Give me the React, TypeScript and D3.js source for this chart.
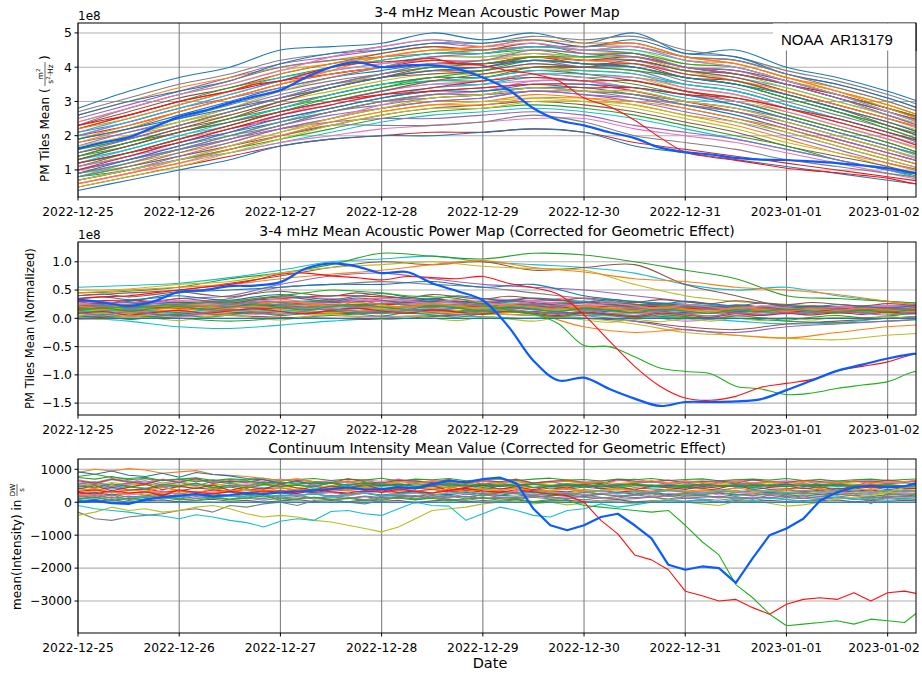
import React from 'react';
import * as d3 from 'd3';

const W = 922;
const H = 675;
const DAY = 864e5;
const T0 = Date.UTC(2022, 11, 25);
const SPAN_DAYS = 8.28;
const FONT = 'DejaVu Sans, sans-serif';

const dateTicks = ['2022-12-25', '2022-12-26', '2022-12-27', '2022-12-28', '2022-12-29', '2022-12-30', '2022-12-31', '2023-01-01', '2023-01-02'];
const tab10 = ['#1f77b4', '#ff7f0e', '#2ca02c', '#d62728', '#9467bd', '#8c564b', '#e377c2', '#7f7f7f', '#bcbd22', '#17becf'];

// ---- panel 1: acoustic power, units of 1e7, one value every 12 h
const p1Lines = [
  [28, 33, 37, 40, 45, 46, 47, 50, 48, 50, 47, 50, 44, 45, 40, 37, 33, 28],
  [27, 31, 35, 38, 42, 44, 46, 48, 47, 49, 48, 49, 45, 43, 39, 36, 32, 27],
  [25, 29, 33, 37, 41, 43, 45, 47, 46, 48, 46, 47, 43, 42, 38, 35, 31, 26],
  [26, 30, 34, 37, 40, 42, 44, 46, 45, 47, 45, 46, 42, 41, 37, 34, 30, 25],
  [24, 28, 32, 35, 39, 41, 43, 45, 44, 46, 45, 45, 41, 40, 36, 33, 29, 24],
  [23, 27, 31, 34, 38, 41, 44, 46, 45, 47, 44, 44, 40, 39, 36, 32, 28, 23],
  [22, 26, 30, 34, 37, 40, 42, 44, 44, 45, 43, 43, 40, 38, 35, 31, 27, 22],
  [21, 25, 29, 33, 37, 39, 41, 43, 43, 44, 43, 42, 39, 37, 34, 30, 26, 21],
  [20, 24, 28, 32, 36, 39, 41, 42, 42, 44, 42, 42, 38, 37, 33, 29, 25, 20],
  [20, 23, 27, 31, 35, 38, 40, 42, 41, 43, 41, 41, 37, 36, 32, 28, 24, 19],
  [19, 22, 26, 30, 34, 37, 39, 41, 41, 42, 41, 40, 37, 35, 31, 27, 23, 18],
  [18, 21, 25, 29, 33, 36, 38, 40, 40, 42, 40, 40, 36, 34, 30, 26, 22, 17],
  [17, 21, 24, 28, 32, 35, 37, 39, 39, 41, 40, 39, 35, 33, 29, 25, 21, 16],
  [16, 20, 23, 27, 31, 34, 37, 39, 38, 40, 39, 38, 34, 32, 28, 24, 20, 15],
  [15, 19, 23, 26, 30, 33, 36, 38, 38, 40, 38, 37, 33, 31, 27, 23, 19, 14],
  [14, 18, 22, 25, 29, 32, 35, 37, 37, 39, 38, 36, 33, 30, 26, 22, 18, 13],
  [14, 17, 21, 24, 28, 31, 34, 36, 36, 38, 37, 35, 32, 30, 26, 22, 18, 13],
  [13, 16, 20, 23, 27, 30, 33, 35, 35, 37, 36, 34, 31, 29, 25, 21, 17, 12],
  [12, 15, 19, 22, 26, 29, 32, 34, 35, 36, 36, 33, 30, 28, 24, 20, 16, 11],
  [12, 15, 18, 22, 25, 28, 31, 33, 34, 35, 35, 33, 30, 27, 23, 19, 15, 11],
  [11, 14, 18, 21, 24, 27, 30, 32, 33, 34, 34, 32, 29, 26, 22, 18, 14, 10],
  [10, 13, 17, 20, 23, 27, 29, 31, 32, 34, 33, 31, 28, 25, 21, 17, 13, 9],
  [10, 13, 16, 19, 23, 26, 28, 30, 31, 33, 32, 30, 27, 24, 20, 16, 12, 9],
  [9, 12, 15, 18, 22, 25, 28, 30, 30, 32, 31, 29, 26, 23, 19, 15, 12, 8],
  [9, 11, 14, 17, 21, 24, 27, 29, 30, 31, 30, 28, 25, 22, 18, 15, 11, 8],
  [8, 11, 14, 17, 20, 23, 26, 28, 29, 30, 29, 27, 24, 21, 17, 14, 11, 7],
  [8, 10, 13, 16, 19, 22, 25, 27, 28, 29, 28, 26, 23, 20, 17, 13, 10, 7],
  [7, 10, 13, 15, 18, 21, 24, 26, 27, 28, 27, 25, 22, 19, 16, 13, 10, 6],
  [6, 9, 12, 15, 18, 20, 22, 23, 24, 25, 25, 22, 20, 18, 15, 12, 9, 6],
  [5, 8, 11, 14, 17, 19, 20, 21, 21, 22, 21, 18, 16, 14, 12, 10, 8, 6],
  [4, 7, 10, 13, 17, 19, 20, 20, 21, 22, 21, 17, 15, 13, 11, 9, 7, 5],
  [7, 10, 13, 16, 20, 23, 23, 23, 24, 26, 24, 20, 18, 16, 13, 11, 9, 7],
  [10, 13, 16, 19, 22, 24, 25, 25, 26, 27, 26, 23, 21, 19, 16, 13, 10, 8],
  [19, 23, 27, 31, 35, 39, 43, 45, 45, 46, 46, 47, 43, 41, 37, 33, 29, 24],
  [16, 20, 24, 28, 33, 37, 40, 43, 43, 45, 44, 44, 40, 38, 34, 30, 26, 22],
  [13, 17, 21, 25, 30, 34, 37, 40, 40, 43, 42, 42, 39, 37, 33, 29, 25, 21],
  [11, 15, 19, 23, 27, 31, 34, 37, 37, 40, 40, 39, 37, 35, 31, 27, 23, 19],
  [8, 12, 16, 20, 24, 28, 31, 34, 35, 38, 38, 37, 35, 33, 29, 25, 21, 17],
  [6, 9, 13, 17, 21, 25, 29, 32, 33, 36, 36, 34, 32, 30, 27, 23, 19, 15],
  [22, 26, 30, 33, 36, 38, 40, 41, 41, 43, 42, 43, 40, 38, 35, 32, 28, 24],
  [26, 30, 33, 36, 41, 44, 45, 47, 47, 48, 46, 48, 44, 43, 38, 35, 31, 26],
  [23, 28, 32, 36, 40, 42, 43, 44, 45, 46, 46, 46, 43, 42, 38, 34, 30, 25],
  [21, 24, 28, 31, 34, 37, 40, 43, 44, 46, 45, 44, 40, 38, 35, 31, 27, 23],
  [18, 22, 27, 31, 35, 38, 40, 41, 42, 43, 42, 41, 38, 36, 33, 29, 25, 21],
  [17, 20, 24, 27, 31, 34, 38, 41, 42, 44, 43, 43, 39, 36, 32, 28, 24, 20],
  [15, 18, 22, 26, 30, 34, 37, 38, 39, 41, 40, 41, 38, 36, 32, 28, 23, 18],
  [14, 18, 21, 25, 28, 32, 35, 37, 39, 42, 41, 40, 37, 35, 31, 27, 22, 17],
  [12, 16, 20, 24, 28, 32, 35, 36, 37, 39, 39, 38, 35, 33, 29, 25, 21, 16],
  [11, 14, 17, 21, 26, 30, 33, 35, 36, 38, 37, 37, 34, 32, 28, 24, 20, 16],
  [10, 14, 18, 22, 26, 29, 32, 34, 36, 37, 36, 36, 33, 31, 28, 24, 20, 15],
  [9, 13, 17, 21, 25, 28, 31, 33, 33, 35, 35, 34, 32, 29, 25, 21, 17, 13],
  [8, 11, 15, 19, 23, 27, 30, 32, 32, 33, 33, 32, 30, 28, 25, 21, 17, 13],
  [7, 10, 14, 18, 22, 25, 28, 30, 31, 33, 32, 31, 29, 27, 23, 19, 15, 11],
  [6, 9, 12, 16, 20, 24, 27, 29, 29, 31, 31, 30, 28, 25, 22, 18, 14, 10],
  [5, 8, 11, 15, 19, 23, 26, 28, 28, 30, 30, 29, 26, 24, 21, 17, 13, 9],
  [13, 17, 21, 24, 27, 30, 33, 36, 38, 40, 40, 42, 39, 38, 35, 31, 27, 23],
  [16, 19, 23, 27, 31, 35, 38, 40, 41, 43, 43, 44, 41, 40, 36, 32, 28, 24],
  [20, 24, 28, 32, 36, 40, 42, 44, 44, 46, 45, 45, 42, 40, 36, 32, 27, 22],
  [24, 28, 32, 35, 39, 43, 46, 48, 46, 47, 45, 46, 42, 40, 36, 32, 27, 22],
  [12, 15, 19, 23, 27, 30, 32, 33, 34, 35, 34, 34, 32, 31, 28, 25, 21, 17],
  [19, 22, 25, 28, 31, 34, 37, 39, 40, 42, 41, 40, 37, 35, 32, 28, 24, 19],
  [9, 12, 16, 20, 24, 27, 30, 31, 32, 34, 33, 32, 29, 27, 24, 20, 16, 12],
  [15, 19, 23, 27, 31, 35, 38, 41, 42, 45, 44, 43, 40, 39, 35, 31, 26, 21],
  [22, 25, 29, 33, 38, 41, 43, 45, 46, 48, 47, 47, 43, 41, 37, 33, 28, 23],
  [7, 10, 13, 17, 21, 25, 28, 31, 32, 34, 33, 33, 30, 28, 24, 20, 16, 12],
];
// every 6 h
const p1Red = [23, 24.5, 26, 28, 30, 31.5, 33, 35, 36, 38, 40, 41, 41.5, 42, 42.5, 41, 40.5, 39, 38, 36, 31, 28.5, 24.5, 19.5, 15.2, 13.8, 12.8, 11.7, 10.5, 9.8, 9.2, 8.4, 7.6, 6.1, 5.5];
const p1Blue = [16.3, 18, 19.5, 22.5, 25.5, 27.3, 29.5, 31.5, 33.3, 37, 40, 41.5, 40, 40.5, 40.5, 39.5, 37, 33.5, 28, 24.5, 23, 21, 19.3, 16.5, 15.2, 14.5, 13.5, 13, 12.9, 12.5, 12, 11.3, 10.5, 9.2, 8.5];

// ---- panel 2: corrected power, units of 1e6, every 12 h
const p2Lines = [
  [55, 58, 62, 72, 85, 100, 105, 110, 100, 95, 90, 80, 60, 50, 55, 40, 30, 25],
  [45, 48, 55, 70, 80, 95, 115, 110, 105, 115, 112, 100, 85, 70, 40, 35, 30, 25],
  [40, 45, 50, 62, 75, 90, 100, 95, 100, 85, 90, 95, 60, 40, 20, 15, 10, 10],
  [50, 52, 60, 65, 80, 90, 95, 100, 92, 88, 85, 60, 40, 30, 25, 20, 18, 15],
  [45, 50, 55, 60, 70, 78, 85, 95, 102, 90, 82, 70, 65, 55, 50, 42, 30, 20],
  [20, 25, 35, 40, 60, 75, 80, 70, 60, 55, 50, 40, 30, 20, 15, 15, 10, 10],
  [15, 20, 25, 35, 55, 60, 65, 60, 55, 45, 35, 25, 20, 15, 10, 10, 10, 10],
  [25, 30, 45, 50, 55, 60, 60, 65, 55, 60, 40, 30, 25, 20, 15, 15, 10, 10],
  [30, 32, 28, 30, 35, 40, 38, 32, 30, 35, 30, 25, 20, 18, 15, 15, 12, 10],
  [25, 28, 30, 32, 30, 28, 32, 30, 35, 30, 25, 22, 20, 15, 15, 12, 12, 10],
  [20, 22, 25, 28, 30, 32, 35, 30, 28, 32, 30, 28, 25, 20, 18, 15, 15, 12],
  [18, 20, 22, 25, 28, 30, 25, 28, 30, 25, 28, 25, 22, 20, 18, 20, 18, 15],
  [15, 18, 20, 22, 25, 28, 30, 25, 22, 25, 22, 20, 18, 18, 15, 18, 15, 15],
  [12, 15, 18, 20, 22, 25, 22, 20, 25, 22, 20, 18, 20, 15, 18, 15, 18, 20],
  [10, 12, 15, 18, 20, 18, 20, 22, 18, 20, 18, 15, 15, 18, 20, 18, 20, 22],
  [8, 10, 12, 15, 18, 15, 18, 15, 20, 18, 15, 12, 15, 15, 18, 20, 22, 25],
  [5, 8, 10, 12, 15, 12, 15, 12, 15, 12, 15, 18, 12, 10, 15, 18, 20, 22],
  [3, 5, 8, 10, 12, 10, 12, 15, 10, 12, 10, 15, 10, 12, 12, 15, 18, 18],
  [0, 3, 5, 8, 10, 8, 10, 8, 12, 10, 8, 10, 8, 10, 10, 12, 15, 15],
  [-2, 0, 3, 5, 8, 5, 3, 5, 8, 5, 5, 8, 5, 5, 8, 10, 12, 12],
  [2, -5, -15, -18, -12, -5, 0, 5, 3, 0, 5, 3, 0, -5, -10, -8, 0, 5],
  [10, 5, 0, -5, 0, 5, 10, 15, 12, 10, 8, 5, 2, 0, -5, -8, -5, 0],
  [20, 15, 10, 5, 2, 0, -2, 3, 8, 5, 0, -5, -15, -20, -10, -5, 0, 5],
  [15, 18, 20, 22, 18, 15, 12, 10, 8, 5, 0, -10, -25, -30, -35, -38, -30, -25],
  [25, 22, 18, 15, 12, 10, 15, 12, 10, 8, -15, -25, -20, -30, -35, -25, -15, -10],
  [30, 28, 25, 20, 18, 15, 12, 15, 20, 15, 5, -5, -20, -25, -15, -10, -5, 0],
  [12, 15, 20, 22, 25, 22, 20, 18, 20, 25, 28, 22, 20, 15, 12, 10, 12, 15],
  [22, 25, 28, 25, 22, 20, 25, 30, 28, 22, 18, 15, 18, 20, 22, 20, 18, 18],
  [18, 20, 18, 15, 18, 22, 25, 22, 20, 18, 20, 22, 18, 15, 12, 15, 18, 20],
  [28, 25, 22, 30, 38, 35, 30, 25, 28, 32, 35, 10, -5, 5, 15, 20, 22, 20],
];
// wigglier members of the central band, every 6 h
const p2Band = [
  [20, 24, 18, 26, 22, 28, 25, 30, 27, 24, 29, 32, 26, 30, 35, 28, 24, 30, 26, 22, 27, 24, 20, 25, 22, 18, 23, 20, 16, 21, 18, 15, 19, 16, 14],
  [12, 16, 10, 15, 19, 14, 18, 22, 17, 21, 25, 20, 16, 22, 26, 21, 17, 22, 19, 15, 20, 17, 14, 18, 15, 12, 16, 13, 17, 14, 11, 15, 12, 16, 13],
  [5, 9, 4, 8, 12, 7, 11, 15, 10, 14, 9, 13, 18, 12, 8, 14, 19, 13, 10, 15, 11, 8, 13, 9, 6, 11, 8, 12, 9, 6, 10, 13, 9, 12, 10],
  [30, 26, 32, 28, 35, 31, 27, 33, 38, 34, 30, 36, 32, 28, 34, 30, 26, 31, 28, 24, 29, 25, 21, 26, 22, 19, 24, 20, 17, 22, 19, 16, 20, 17, 15],
  [0, 4, -2, 3, 7, 2, 6, 10, 5, 9, 13, 8, 4, 10, 6, 2, 8, 12, 7, 3, 9, 5, 1, 6, 3, -1, 4, 1, -3, 2, 5, 1, 4, 8, 6],
  [15, 11, 17, 13, 9, 15, 20, 16, 12, 18, 22, 18, 14, 20, 24, 19, 15, 21, 17, 13, 18, 14, 10, 16, 12, 9, 14, 11, 8, 12, 10, 14, 11, 15, 12],
  [25, 29, 23, 27, 32, 27, 23, 29, 34, 29, 25, 31, 36, 31, 27, 33, 28, 24, 30, 25, 21, 27, 22, 18, 24, 20, 16, 22, 18, 15, 20, 17, 21, 18, 16],
  [8, 12, 6, 10, 14, 9, 13, 17, 12, 8, 14, 18, 13, 9, 15, 11, 7, 13, 9, 5, 11, 7, 3, 9, 6, 2, 8, 5, 9, 6, 10, 7, 11, 8, 10],
  [35, 38, 33, 36, 40, 35, 32, 38, 42, 37, 33, 39, 44, 38, 34, 40, 35, 31, 36, 32, 28, 33, 29, 25, 30, 26, 22, 27, 23, 20, 24, 21, 18, 22, 19],
  [18, 22, 17, 21, 26, 20, 24, 28, 23, 19, 25, 21, 27, 23, 19, 25, 21, 17, 23, 19, 15, 21, 18, 14, 20, 16, 13, 18, 15, 19, 16, 13, 17, 14, 16],
  [10, 6, 12, 8, 4, 10, 15, 11, 7, 13, 17, 12, 8, 14, 10, 6, 12, 16, 11, 7, 13, 9, 5, 11, 8, 4, 10, 7, 11, 8, 12, 9, 6, 10, 8],
  [22, 18, 24, 20, 26, 22, 18, 24, 30, 26, 22, 28, 24, 20, 26, 22, 18, 24, 20, 16, 22, 18, 14, 20, 17, 13, 19, 16, 12, 17, 14, 18, 15, 12, 14],
  [3, -2, 4, 0, -4, 2, 6, 1, -3, 3, 7, 2, -2, 4, 0, -4, 2, -1, -5, 1, -3, -7, -2, -6, -1, -5, 0, -4, 1, -3, 2, -1, 3, 0, 2],
  [40, 43, 38, 42, 47, 42, 38, 44, 48, 43, 39, 45, 40, 36, 42, 38, 34, 39, 35, 31, 36, 32, 28, 33, 29, 26, 31, 27, 24, 28, 25, 22, 26, 23, 21],
  [14, 18, 13, 17, 21, 16, 20, 24, 19, 15, 21, 25, 20, 16, 22, 18, 14, 20, 16, 12, 18, 14, 10, 16, 13, 9, 15, 12, 16, 13, 10, 14, 11, 15, 12],
];
const p2Zero = [0, 0];
// every 6 h
const p2Green = [15, 18, 20, 22, 25, 28, 30, 35, 40, 45, 50, 48, 45, 40, 38, 35, 25, 15, 8, -10, -48, -50, -68, -88, -94, -98, -120, -125, -135, -132, -124, -118, -112, -95, -90];
const p2Red = [35, 38, 40, 45, 50, 55, 60, 68, 78, 80, 75, 72, 68, 74, 72, 70, 74, 62, 54, 42, 6, -40, -85, -120, -141, -145, -138, -122, -115, -108, -93, -85, -77, -64, -58];
const p2Blue = [33, 28, 22, 30, 47, 50, 57, 58, 64, 88, 97, 92, 80, 82, 62, 48, 32, -14, -75, -110, -105, -125, -142, -155, -148, -148, -147, -143, -127, -110, -93, -82, -71, -63, -58];

// ---- panel 3: continuum intensity, units of 10 DW/s, every 4 h
const p3Lines = [
  [62, 55, 68, 60, 72, 58, 65, 70, 60, 66, 58, 63, 70, 62, 57, 65, 60, 68, 55, 63, 66, 60, 70, 58, 64, 60, 67, 55, 62, 68, 60, 57, 65, 70, 62, 58, 66, 60, 63, 68, 57, 62, 65, 60, 70, 58, 64, 66, 60, 63, 67],
  [48, 55, 45, 52, 58, 47, 50, 56, 44, 52, 49, 57, 46, 53, 50, 45, 55, 48, 52, 58, 46, 50, 54, 47, 53, 49, 56, 45, 51, 48, 55, 50, 46, 53, 49, 57, 45, 52, 48, 55, 50, 47, 53, 58, 49, 52, 46, 55, 50, 48, 54],
  [42, 36, 45, 38, 40, 47, 35, 43, 39, 46, 37, 41, 44, 36, 48, 40, 38, 45, 42, 35, 44, 39, 47, 37, 42, 40, 45, 36, 43, 39, 46, 41, 37, 44, 40, 38, 45, 42, 36, 43, 47, 39, 41, 44, 37, 42, 40, 46, 38, 43, 41],
  [28, 35, 30, 25, 33, 29, 36, 27, 31, 34, 26, 32, 30, 37, 28, 33, 25, 31, 35, 29, 32, 27, 34, 30, 26, 33, 29, 36, 31, 28, 34, 25, 30, 33, 27, 35, 30, 28, 32, 36, 29, 31, 26, 34, 30, 28, 33, 31, 27, 35, 32],
  [22, 18, 25, 15, 20, 24, 17, 21, 26, 19, 23, 16, 22, 20, 25, 18, 21, 27, 19, 22, 17, 24, 20, 15, 23, 21, 18, 25, 20, 22, 17, 24, 19, 21, 26, 18, 22, 20, 16, 23, 21, 25, 19, 22, 18, 24, 20, 17, 23, 21, 19],
  [12, 8, 15, 5, 10, 14, 7, 11, 16, 9, 13, 6, 12, 10, 15, 8, 11, 17, 9, 12, 7, 14, 10, 5, 13, 11, 8, 15, 10, 12, 7, 14, 9, 11, 16, 8, 12, 10, 6, 13, 11, 15, 9, 12, 8, 14, 10, 7, 13, 11, 9],
  [45, 52, 40, 48, 43, 50, 46, 55, 42, 47, 51, 44, 49, 53, 41, 46, 50, 44, 48, 52, 43, 47, 45, 51, 40, 49, 53, 44, 47, 42, 50, 46, 48, 52, 43, 45, 49, 44, 51, 47, 42, 50, 46, 53, 44, 48, 45, 51, 47, 43, 49],
  [33, 38, 30, 36, 40, 32, 35, 28, 37, 33, 39, 31, 36, 34, 29, 38, 35, 32, 37, 30, 34, 39, 33, 36, 31, 35, 28, 37, 34, 32, 38, 35, 30, 36, 33, 39, 31, 34, 37, 30, 35, 33, 38, 32, 36, 29, 34, 37, 31, 35, 33],
  [57, 50, 60, 53, 58, 52, 62, 55, 49, 58, 54, 60, 51, 56, 59, 50, 55, 61, 53, 57, 52, 58, 55, 60, 50, 56, 54, 59, 52, 57, 61, 53, 55, 58, 50, 56, 54, 60, 52, 57, 55, 59, 51, 56, 53, 58, 55, 52, 57, 60, 54],
  [25, 30, 22, 27, 32, 24, 28, 20, 26, 31, 23, 27, 29, 21, 26, 30, 24, 28, 22, 27, 31, 25, 23, 29, 26, 21, 28, 30, 24, 27, 22, 26, 29, 25, 31, 23, 27, 24, 28, 22, 26, 30, 25, 27, 23, 29, 26, 24, 28, 25, 27],
  [68, 60, 72, 65, 58, 70, 63, 67, 61, 69, 64, 58, 66, 71, 62, 65, 60, 68, 63, 70, 59, 66, 64, 61, 68, 62, 66, 59, 64, 67, 61, 65, 68, 60, 63, 66, 62, 65, 60, 64, 67, 61, 63, 66, 60, 64, 62, 65, 61, 63, 64],
  [15, 20, 12, 18, 14, 22, 10, 17, 13, 19, 15, 11, 18, 21, 13, 16, 12, 19, 14, 17, 20, 12, 15, 18, 11, 16, 14, 20, 13, 17, 15, 12, 18, 14, 16, 19, 13, 15, 17, 12, 16, 14, 18, 13, 17, 15, 12, 16, 14, 18, 15],
  [75, 70, 78, 68, 72, 65, 70, 74, 66, 71, 68, 73, 65, 69, 72, 66, 70, 67, 73, 64, 70, 68, 72, 65, 69, 71, 66, 70, 73, 67, 69, 64, 70, 68, 72, 66, 69, 71, 65, 68, 70, 67, 72, 66, 69, 64, 68, 70, 66, 69, 71],
  [5, 2, 8, 0, 4, 7, 1, 5, 9, 3, 6, 0, 4, 8, 2, 5, 1, 7, 3, 6, -2, 4, 8, 1, 5, 3, 7, 0, 4, 6, 2, 5, 8, 1, 4, 6, 3, 7, 0, 5, 3, 6, 2, 5, 4, 7, 1, 5, 3, 6, 4],
  [20, 25, 18, 28, 22, 30, 26, 33, 28, 35, 30, 38, 33, 40, 36, 42, 38, 45, 40, 47, 43, 48, 45, 50, 46, 52, 48, 44, 50, 46, 52, 48, 54, 50, 47, 53, 49, 55, 51, 48, 54, 50, 56, 52, 49, 55, 51, 57, 53, 50, 55],
  [55, 60, 52, 58, 50, 56, 53, 48, 55, 50, 46, 52, 48, 44, 50, 45, 42, 48, 43, 40, 46, 41, 38, 44, 40, 36, 42, 38, 35, 40, 37, 33, 39, 35, 31, 37, 33, 30, 36, 32, 29, 35, 31, 28, 34, 30, 27, 33, 29, 32, 30],
  [40, 50, 35, 45, 55, 38, 48, 42, 52, 36, 46, 40, 55, 43, 37, 49, 44, 53, 39, 47, 41, 50, 36, 45, 52, 40, 47, 38, 49, 43, 55, 41, 46, 37, 50, 44, 39, 48, 42, 53, 38, 45, 49, 41, 47, 36, 50, 43, 46, 40, 44],
  [55, 62, 48, 58, 65, 52, 60, 50, 63, 57, 49, 61, 54, 66, 50, 58, 63, 53, 59, 48, 62, 56, 51, 64, 55, 60, 47, 58, 63, 52, 57, 61, 50, 56, 64, 53, 59, 49, 62, 55, 58, 51, 60, 65, 54, 57, 50, 62, 56, 59, 53],
  [25, 18, 32, 22, 28, 35, 20, 27, 31, 17, 29, 24, 33, 21, 26, 30, 19, 28, 34, 23, 27, 20, 31, 25, 18, 29, 33, 22, 26, 30, 21, 28, 24, 32, 19, 27, 25, 31, 22, 29, 26, 20, 30, 24, 28, 33, 21, 27, 25, 29, 23],
  [50, 44, 56, 47, 40, 53, 49, 58, 45, 51, 42, 55, 48, 52, 46, 59, 43, 50, 54, 47, 41, 56, 49, 53, 45, 51, 57, 44, 48, 52, 46, 55, 42, 50, 53, 47, 44, 56, 49, 51, 45, 54, 48, 52, 43, 57, 46, 50, 53, 48, 51],
  [18, 12, 22, 8, 16, 20, 11, 24, 14, 9, 19, 23, 13, 17, 10, 21, 15, 7, 18, 22, 12, 16, 20, 10, 25, 14, 11, 19, 17, 8, 21, 15, 12, 23, 16, 10, 18, 20, 13, 17, 9, 22, 14, 19, 11, 16, 21, 13, 18, 15, 17],
  [35, 42, 30, 38, 33, 45, 36, 29, 41, 34, 39, 31, 44, 37, 32, 40, 35, 43, 30, 38, 36, 28, 42, 33, 39, 34, 45, 31, 37, 40, 32, 36, 43, 35, 30, 41, 34, 38, 33, 44, 36, 31, 39, 35, 42, 33, 37, 40, 34, 38, 36],
  [65, 58, 70, 62, 55, 68, 60, 72, 57, 64, 61, 69, 56, 66, 63, 59, 71, 62, 58, 67, 64, 60, 68, 55, 65, 62, 70, 58, 63, 66, 60, 57, 69, 64, 61, 67, 59, 63, 65, 58, 68, 62, 60, 66, 63, 57, 64, 61, 67, 62, 65],
  [8, 15, 5, 12, 18, 10, 16, 22, 13, 19, 15, 24, 18, 21, 26, 17, 23, 28, 20, 25, 30, 22, 27, 32, 24, 29, 26, 33, 28, 24, 30, 35, 27, 32, 29, 36, 31, 27, 34, 30, 37, 33, 29, 35, 32, 38, 34, 30, 36, 33, 35],
  [90, 100, 95, 102, 98, 88, 92, 96, 85, 82, 78, 72, 66, 70, 62, 58, 65, 60, 55, 62, 58, 64, 60, 56, 63, 58, 62, 55, 60, 64, 58, 62, 57, 60, 65, 58, 62, 60, 56, 63, 59, 61, 57, 64, 60, 58, 62, 59, 61, 63, 60],
  [92, 85, 95, 82, 78, 88, 76, 90, 84, 80, 72, 68, 58, 62, 55, 60, 52, 58, 50, 55, 48, 52, 56, 50, 54, 47, 52, 55, 49, 53, 50, 46, 52, 55, 48, 51, 49, 54, 50, 47, 52, 50, 55, 48, 51, 53, 49, 52, 50, 48, 51],
  [78, 85, 75, 72, 76, 66, 70, 62, 68, 60, 65, 58, 62, 55, 60, 57, 52, 58, 55, 50, 56, 53, 57, 51, 55, 52, 48, 54, 50, 56, 52, 49, 53, 55, 50, 47, 52, 54, 49, 51, 53, 50, 48, 52, 55, 50, 51, 49, 53, 50, 52],
  [-30, -50, -55, -45, -40, -35, -25, -20, -30, -10, -15, -5, 0, -10, 5, 10, 0, -5, 5, 15, 10, 20, 15, 25, 20, 30, 25, 20, 28, 22, 30, 25, 18, 24, 28, 20, 26, 22, 30, 24, 20, 27, 23, 29, 25, 21, 28, -5, 26, 22, 25],
  [-40, -30, -15, -25, -20, -30, -25, -15, -10, -20, -35, -45, -40, -45, -55, -60, -70, -80, -90, -75, -50, -25, -20, -15, -5, 0, 5, -5, 0, -8, -3, 5, 0, -5, 3, 8, 0, -5, -10, 2, 5, -3, -12, -8, 0, 10, 15, 20, 30, 45, 60],
  [-10, -20, -25, -30, -38, -42, -50, -38, -45, -55, -62, -75, -58, -50, -55, -28, -25, -35, -40, -20, 0, -10, -12, -55, -35, -15, -25, -40, -45, -25, -20, -5, -15, -8, 0, 5, 2, 8, 0, 10, 5, 12, 8, 3, 10, 15, 8, 12, 6, 10, 8],
];
const p3LineColors = ['#e377c2', '#9467bd', '#8c564b', '#ff7f0e', '#2ca02c', '#7f7f7f', '#17becf', '#d62728', '#bcbd22', '#1f77b4', '#e377c2', '#9467bd', '#2ca02c', '#8c564b', '#ff7f0e', '#bcbd22', '#d62728', '#9467bd', '#e377c2', '#2ca02c', '#7f7f7f', '#ff7f0e', '#8c564b', '#17becf', '#ff7f0e', '#1f77b4', '#2ca02c', '#7f7f7f', '#bcbd22', '#17becf'];
const p3Zero = [0, 0];
const p3Green = [10, 15, 5, 12, 8, 18, 10, 5, 14, 8, 12, 20, 6, 10, 15, 8, 12, 5, 10, 16, 8, 12, 4, 10, 14, 6, 10, 2, 8, 5, -10, -15, -20, -25, -30, -25, -70, -120, -160, -250, -290, -340, -375, -370, -365, -360, -370, -355, -360, -365, -325];
const p3Red = [30, 25, 35, 28, 32, 20, 38, 30, 25, 33, 28, 35, 30, 26, 38, 32, 28, 35, 30, 40, 33, 28, 36, 42, 35, 30, 38, 32, 25, 20, 0, -55, -96, -160, -175, -205, -270, -284, -300, -295, -320, -340, -310, -295, -290, -295, -275, -300, -275, -270, -280];
const p3Blue = [0, 5, -3, -5, 8, 15, 20, 25, 18, 22, 28, 25, 30, 32, 35, 40, 45, 38, 40, 45, 42, 55, 65, 60, 70, 75, 57, -20, -70, -85, -70, -45, -35, -70, -110, -190, -205, -195, -200, -245, -170, -100, -80, -50, 5, 30, 45, 50, 45, 48, 62];

const RED = '#ff1010';
const GREEN = '#1fb21f';
const BLUE = '#0a5cff';

type Series = { values: number[]; stepDays: number; scale: number; color: string; width: number };

const x = d3.scaleUtc()
  .domain([new Date(T0), new Date(T0 + SPAN_DAYS * DAY)])
  .range([78, 916]);
const tickDates = dateTicks.map(s => new Date(s + 'T00:00:00Z'));

const minus = (s: string) => s.replace('-', '\u2212');

function Panel(props: {
  id: string; top: number; bottom: number; yDomain: [number, number];
  yTicks: number[]; yFmt: (v: number) => string; series: Series[];
  curve: d3.CurveFactory; title: string; offsetText?: string; children?: React.ReactNode;
}) {
  const { id, top, bottom, yDomain, yTicks, yFmt, series, curve, title, offsetText } = props;
  const y = d3.scaleLinear().domain(yDomain).range([bottom, top]);
  const [x0, x1] = x.range();
  const mkPath = (s: Series) =>
    d3.line<number>()
      .x((_, i) => x(new Date(T0 + i * s.stepDays * DAY)))
      .y(v => y(v * s.scale))
      .curve(curve)(s.values) || '';
  return (
    <g>
      <defs>
        <clipPath id={id}><rect x={x0} y={top} width={x1 - x0} height={bottom - top} /></clipPath>
      </defs>
      {yTicks.map(t => (
        <line key={'gy' + t} x1={x0} x2={x1} y1={y(t)} y2={y(t)} stroke="#b0b0b0" strokeWidth={1.1} />
      ))}
      {tickDates.map((d, i) => (
        <line key={'gx' + i} x1={x(d)} x2={x(d)} y1={top} y2={bottom} stroke="#808080" strokeWidth={1.1} />
      ))}
      <g clipPath={`url(#${id})`}>
        {series.map((s, i) => (
          <path key={i} d={mkPath(s)} fill="none" stroke={s.color} strokeWidth={s.width} strokeLinejoin="round" />
        ))}
      </g>
      <rect x={x0} y={top} width={x1 - x0} height={bottom - top} fill="none" stroke="#000" strokeWidth={1} />
      {yTicks.map(t => (
        <g key={'ty' + t}>
          <line x1={x0 - 3.5} x2={x0} y1={y(t)} y2={y(t)} stroke="#000" />
          <text x={x0 - 6} y={y(t)} dy="0.35em" textAnchor="end" fontSize={12.4} fontFamily={FONT} fill="#000">{yFmt(t)}</text>
        </g>
      ))}
      {tickDates.map((d, i) => (
        <g key={'tx' + i}>
          <line x1={x(d)} x2={x(d)} y1={bottom} y2={bottom + 3.5} stroke="#000" />
          <text x={Math.min(x(d), 884)} y={bottom + 18.5} textAnchor="middle" fontSize={12.3} fontFamily={FONT} fill="#000">{dateTicks[i]}</text>
        </g>
      ))}
      <text x={(x0 + x1) / 2} y={top - 6} textAnchor="middle" fontSize={14} fontFamily={FONT} fill="#000">{title}</text>
      {offsetText && <text x={x0} y={top - 3} fontSize={12} fontFamily={FONT} fill="#000">{offsetText}</text>}
      {props.children}
    </g>
  );
}

export default function App() {
  const p1Series: Series[] = [
    ...p1Lines.map((v, i) => ({ values: v, stepDays: 0.5, scale: 0.1, color: tab10[(i * 7) % 10], width: 1.1 })),
    { values: p1Red, stepDays: 0.25, scale: 0.1, color: RED, width: 1.1 },
    { values: p1Blue, stepDays: 0.25, scale: 0.1, color: BLUE, width: 2.2 },
  ];
  const p2Series: Series[] = [
    ...p2Lines.map((v, i) => ({ values: v, stepDays: 0.5, scale: 0.01, color: tab10[(i * 3 + 9) % 10], width: 1.1 })),
    ...p2Band.map((v, i) => ({ values: v, stepDays: 0.25, scale: 0.01, color: tab10[(i * 7 + 4) % 10], width: 1.1 })),
    { values: p2Zero, stepDays: 8.5, scale: 0.01, color: '#1f77b4', width: 1.2 },
    { values: p2Green, stepDays: 0.25, scale: 0.01, color: GREEN, width: 1.1 },
    { values: p2Red, stepDays: 0.25, scale: 0.01, color: RED, width: 1.1 },
    { values: p2Blue, stepDays: 0.25, scale: 0.01, color: BLUE, width: 2.2 },
  ];
  const p3Series: Series[] = [
    ...p3Lines.map((v, i) => ({ values: v, stepDays: 1 / 6, scale: 10, color: p3LineColors[i], width: 1.1 })),
    { values: p3Zero, stepDays: 8.5, scale: 10, color: '#2b86c6', width: 1.6 },
    { values: p3Green, stepDays: 1 / 6, scale: 10, color: GREEN, width: 1.1 },
    { values: p3Red, stepDays: 1 / 6, scale: 10, color: RED, width: 1.1 },
    { values: p3Blue, stepDays: 1 / 6, scale: 10, color: BLUE, width: 2.2 },
  ];

  return (
    <svg width={W} height={H} style={{ position: 'absolute', left: 0, top: 0, background: '#fff' }}>
      <rect width={W} height={H} fill="#fff" />
      <Panel id="c1" top={23} bottom={197} yDomain={[0.21, 5.29]} yTicks={[1, 2, 3, 4, 5]} yFmt={v => String(v)}
        series={p1Series} curve={d3.curveCatmullRom} title="3-4 mHz Mean Acoustic Power Map" offsetText="1e8">
        <rect x={773} y={23.5} width={142.5} height={27} fill="#fff" />
        <text x={781} y={45} fontSize={15} fontFamily="Liberation Sans, Arial, sans-serif" fill="#000" style={{ whiteSpace: 'pre' }}>NOAA  AR13179</text>
        <line x1={916} x2={916} y1={23} y2={51} stroke="#000" />
        <g transform="translate(45,114) rotate(-90)" fontFamily={FONT} fill="#000">
          <text x={-68} y={0} dy="0.35em" fontSize={12}>PM Tiles Mean (</text>
          <text x={40} y={-2.5} textAnchor="middle" fontSize={7.5}>m<tspan dy={-2.5} fontSize={5.5}>2</tspan></text>
          <line x1={28} x2={52} y1={0} y2={0} stroke="#000" strokeWidth={0.6} />
          <text x={40} y={7.5} textAnchor="middle" fontSize={7.5}>s<tspan dy={-2.5} fontSize={5.5}>2</tspan><tspan dy={2.5}>·Hz</tspan></text>
          <text x={54} y={0} dy="0.35em" fontSize={12}>)</text>
        </g>
      </Panel>
      <Panel id="c2" top={242} bottom={415} yDomain={[-1.71, 1.35]} yTicks={[-1.5, -1, -0.5, 0, 0.5, 1]}
        yFmt={v => minus(v.toFixed(1))} series={p2Series} curve={d3.curveCatmullRom}
        title="3-4 mHz Mean Acoustic Power Map (Corrected for Geometric Effect)" offsetText="1e8">
        <text transform="translate(30,328.5) rotate(-90)" textAnchor="middle" dy="0.35em" fontSize={11.6} fontFamily={FONT} fill="#000">PM Tiles Mean (Normalized)</text>
      </Panel>
      <Panel id="c3" top={459} bottom={633} yDomain={[-3970, 1312]} yTicks={[-3000, -2000, -1000, 0, 1000]}
        yFmt={v => minus(String(v))} series={p3Series} curve={d3.curveLinear}
        title="Continuum Intensity Mean Value (Corrected for Geometric Effect)">
        <g transform="translate(17,550) rotate(-90)" fontFamily={FONT} fill="#000">
          <text x={-60} y={0} dy="0.35em" fontSize={12}>mean(Intensity) in</text>
          <text x={60} y={-2.5} textAnchor="middle" fontSize={7}>DW</text>
          <line x1={54} x2={66} y1={0} y2={0} stroke="#000" strokeWidth={0.6} />
          <text x={60} y={6.5} textAnchor="middle" fontSize={7}>s</text>
        </g>
        <text x={490} y={668} textAnchor="middle" fontSize={14.5} fontFamily={FONT} fill="#000">Date</text>
      </Panel>
    </svg>
  );
}
